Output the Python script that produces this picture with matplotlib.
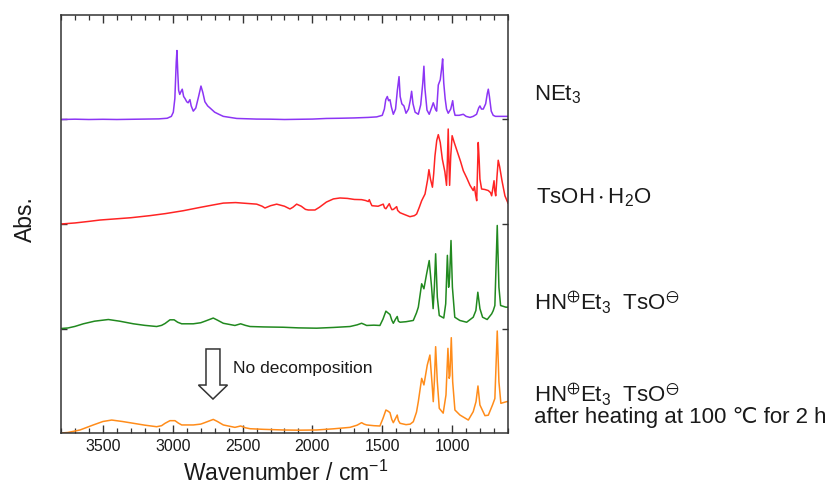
import matplotlib
matplotlib.use("Agg")
import matplotlib.pyplot as plt
from matplotlib.patches import FancyArrow
from matplotlib.ticker import MultipleLocator

plt.rcParams['font.family'] = ['Liberation Sans', 'DejaVu Sans']
plt.rcParams['mathtext.fontset'] = 'custom'
plt.rcParams['mathtext.rm'] = 'Liberation Sans'
plt.rcParams['mathtext.it'] = 'Liberation Sans:italic'
plt.rcParams['mathtext.bf'] = 'Liberation Sans:bold'

# ---------------- data (wavenumber / cm-1, absorbance relative to trace baseline) -----
net3_wn = [3800, 3700, 3600, 3500, 3400, 3300, 3200, 3100, 3040, 3010, 2996, 2985, 2975, 2970,
           2964, 2958, 2950, 2940, 2932, 2922, 2912, 2900, 2890, 2877, 2868, 2853, 2835, 2815,
           2798, 2785, 2770, 2750, 2733, 2700, 2670, 2638, 2542, 2400, 2300, 2200, 2100, 2000,
           1900, 1800, 1700, 1600, 1540, 1500, 1485, 1475, 1464, 1455, 1445, 1435, 1421, 1405,
           1392, 1380, 1372, 1360, 1345, 1330, 1312, 1300, 1290, 1280, 1265, 1242, 1225, 1210,
           1202, 1195, 1180, 1164, 1145, 1135, 1120, 1111, 1099, 1085, 1074, 1068, 1060, 1050,
           1040, 1028, 1010, 996, 988, 979, 950, 920, 900, 872, 849, 825, 810, 801, 790, 777,
           760, 748, 741, 733, 720, 706, 690, 650, 600]
net3_abs = [0.0, 0.003, 0.0, 0.002, 0.0, 0.002, 0.004, 0.006, 0.012, 0.03, 0.07, 0.20, 0.55, 0.66,
            0.45, 0.28, 0.24, 0.27, 0.29, 0.22, 0.20, 0.17, 0.16, 0.19, 0.13, 0.08, 0.11, 0.22,
            0.32, 0.26, 0.17, 0.13, 0.11, 0.07, 0.05, 0.03, 0.01, 0.004, 0.003, 0.0, 0.002, 0.004,
            0.01, 0.012, 0.015, 0.02, 0.025, 0.04, 0.10, 0.19, 0.22, 0.18, 0.19, 0.12, 0.05, 0.10,
            0.28, 0.41, 0.22, 0.15, 0.13, 0.06, 0.10, 0.18, 0.27, 0.15, 0.07, 0.05, 0.14, 0.35,
            0.51, 0.30, 0.09, 0.05, 0.12, 0.16, 0.10, 0.08, 0.33, 0.38, 0.50, 0.58, 0.35, 0.20,
            0.10, 0.06, 0.10, 0.18, 0.09, 0.04, 0.04, 0.05, 0.03, 0.02, 0.03, 0.05, 0.11, 0.13,
            0.10, 0.10, 0.15, 0.25, 0.29, 0.22, 0.08, 0.04, 0.03, 0.03, 0.03]

tsoh_wn = [3800, 3700, 3600, 3521, 3400, 3300, 3163, 3050, 2925, 2800, 2700, 2638, 2550, 2450,
           2399, 2360, 2340, 2300, 2256, 2200, 2161, 2140, 2113, 2080, 2050, 2030, 1982, 1950,
           1900, 1850, 1803, 1750, 1700, 1648, 1620, 1600, 1593, 1585, 1574, 1530, 1493, 1484,
           1474, 1450, 1440, 1431, 1420, 1397, 1390, 1373, 1340, 1302, 1270, 1254, 1235, 1218,
           1194, 1176, 1166, 1155, 1141, 1132, 1123, 1110, 1099, 1085, 1070, 1052, 1040, 1034,
           1028, 1023, 1018, 1010, 1000, 985, 965, 940, 920, 895, 872, 849, 840, 832, 824, 813,
           806, 801, 789, 765, 741, 725, 717, 700, 695, 688, 679, 670, 660, 643, 622, 600]
tsoh_abs = [0.0, 0.01, 0.025, 0.038, 0.05, 0.06, 0.08, 0.10, 0.127, 0.16, 0.185, 0.20, 0.205, 0.195,
            0.19, 0.17, 0.153, 0.175, 0.19, 0.17, 0.144, 0.16, 0.19, 0.17, 0.14, 0.134, 0.134, 0.16,
            0.21, 0.24, 0.249, 0.245, 0.235, 0.233, 0.225, 0.215, 0.233, 0.205, 0.175, 0.17, 0.19, 0.155,
            0.146, 0.194, 0.16, 0.137, 0.14, 0.166, 0.13, 0.108, 0.09, 0.07, 0.08, 0.096, 0.16, 0.223,
            0.287, 0.42, 0.52, 0.43, 0.352, 0.48, 0.65, 0.80, 0.855, 0.78, 0.62, 0.50, 0.37, 0.60,
            0.909, 0.60, 0.37, 0.65, 0.845, 0.78, 0.70, 0.60, 0.51, 0.44, 0.37, 0.32, 0.357, 0.28, 0.223, 0.78,
            0.60, 0.43, 0.335, 0.33, 0.32, 0.30, 0.27, 0.414, 0.32, 0.27, 0.45, 0.61, 0.55, 0.414, 0.27, 0.20]

salt_wn = [3800, 3750, 3700, 3640, 3560, 3461, 3380, 3282, 3200, 3115, 3080, 3055, 3020, 2990,
           2965, 2936, 2853, 2800, 2769, 2710, 2680, 2638, 2555, 2514, 2480, 2447, 2350, 2209,
           2100, 1970, 1850, 1731, 1680, 1648, 1630, 1612, 1560, 1517, 1495, 1474, 1460, 1445,
           1432, 1421, 1405, 1393, 1385, 1373, 1330, 1278, 1255, 1242, 1218, 1202, 1183, 1164,
           1147, 1136, 1127, 1118, 1106, 1092, 1060, 1046, 1034, 1025, 1018, 1008, 998, 981,
           945, 896, 849, 830, 816, 801, 782, 749, 717, 706, 694, 677, 665, 653, 615, 600]
salt_abs = [0.0, 0.005, 0.02, 0.045, 0.07, 0.086, 0.07, 0.045, 0.03, 0.019, 0.03, 0.048, 0.083, 0.083,
            0.06, 0.045, 0.045, 0.055, 0.07, 0.10, 0.08, 0.05, 0.029, 0.045, 0.03, 0.019, 0.015, 0.012,
            0.006, 0.003, 0.01, 0.019, 0.035, 0.05, 0.04, 0.029, 0.032, 0.029, 0.09, 0.166, 0.15, 0.134,
            0.08, 0.05, 0.09, 0.115, 0.07, 0.06, 0.065, 0.077, 0.15, 0.204, 0.428, 0.38, 0.52, 0.65,
            0.395, 0.19, 0.40, 0.715, 0.30, 0.124, 0.10, 0.236, 0.70, 0.395, 0.49, 0.842, 0.395, 0.108,
            0.077, 0.06, 0.108, 0.172, 0.347, 0.19, 0.108, 0.086, 0.14, 0.17, 0.22, 0.986, 0.395, 0.22, 0.204, 0.204]

heated_wn = [3800, 3750, 3664, 3569, 3500, 3437, 3360, 3282, 3200, 3115, 3080, 3055, 3020, 2984,
             2960, 2936, 2853, 2800, 2769, 2710, 2680, 2638, 2555, 2514, 2480, 2447, 2350, 2209,
             2100, 1970, 1850, 1731, 1680, 1648, 1630, 1612, 1560, 1517, 1495, 1474, 1460, 1445,
             1432, 1421, 1405, 1393, 1385, 1373, 1330, 1300, 1278, 1255, 1242, 1218, 1202, 1178,
             1159, 1143, 1135, 1127, 1118, 1106, 1092, 1064, 1044, 1030, 1021, 1016, 1006, 996,
             980, 944, 884, 849, 829, 815, 801, 765, 741, 711, 694, 677, 665, 651, 610, 600]
heated_abs = [0.0, 0.005, 0.029, 0.077, 0.11, 0.124, 0.11, 0.093, 0.075, 0.06, 0.07, 0.093, 0.118, 0.118,
              0.095, 0.077, 0.077, 0.085, 0.10, 0.13, 0.11, 0.077, 0.054, 0.067, 0.05, 0.041, 0.035, 0.029,
              0.027, 0.029, 0.04, 0.054, 0.075, 0.099, 0.085, 0.077, 0.07, 0.067, 0.14, 0.22, 0.21, 0.195,
              0.13, 0.099, 0.14, 0.172, 0.12, 0.093, 0.08, 0.085, 0.108, 0.20, 0.30, 0.523, 0.46, 0.65,
              0.746, 0.46, 0.30, 0.50, 0.826, 0.49, 0.236, 0.19, 0.364, 0.81, 0.523, 0.55, 0.912, 0.49,
              0.22, 0.172, 0.124, 0.204, 0.30, 0.45, 0.268, 0.166, 0.17, 0.268, 0.33, 0.976, 0.49, 0.284, 0.30, 0.30]

x_major_ticks = [3500, 3000, 2500, 2000, 1500, 1000]
annotation_text = "No decomposition"

# ---------------- figure ----------------
W, H = 833, 486
fig = plt.figure(figsize=(W / 100, H / 100), dpi=100)
ax = fig.add_axes([61 / W, (H - 433) / H, 447 / W, 418 / H])

frame_col = '#333333'
txt_col = '#1a1a1a'
traces = [
    (net3_wn, net3_abs, 3, '#8C35F5'),
    (tsoh_wn, tsoh_abs, 2, '#FF2424'),
    (salt_wn, salt_abs, 1, '#21891F'),
    (heated_wn, heated_abs, 0, '#FF8C1A'),
]
for wn, ab, off, col in traces:
    ax.plot(wn, [a + off for a in ab], color=col, lw=1.1, solid_joinstyle='round')

ax.set_xlim(3800, 600)
ax.set_ylim(0, 4)
ax.set_xticks(x_major_ticks)
ax.set_xticklabels([str(t) for t in x_major_ticks])
ax.xaxis.set_minor_locator(MultipleLocator(100))
ax.set_yticks([1, 2, 3])
ax.set_yticklabels([])
ax.tick_params(axis='x', which='major', direction='in', top=True, bottom=True,
               length=6, width=1.0, color=frame_col, labelsize=11.5, pad=4, labelcolor=txt_col)
ax.tick_params(axis='x', which='minor', direction='in', top=True, bottom=True,
               length=3.5, width=0.9, color=frame_col)
ax.tick_params(axis='y', which='major', direction='in', left=True, right=True,
               length=4, width=1.0, color=frame_col)
for s in ax.spines.values():
    s.set_color(frame_col)
    s.set_linewidth(1.1)

# arrow + annotation
ax.add_patch(FancyArrow(2712, 0.804, 0, -0.479, width=100, head_width=208, head_length=0.134,
                        length_includes_head=True, facecolor='white', edgecolor='#333333', lw=1.1))
ax.text(2569, 0.622, annotation_text, fontsize=12.5, ha='left', va='center', color=txt_col)

# axis labels
fig.text(286 / W, 1 - 481 / H, r'Wavenumber / cm$^{\mathregular{-1}}$', fontsize=16.5,
         ha='center', va='baseline', color=txt_col)
fig.text(25 / W, 1 - 219 / H, 'Abs.', fontsize=16.5, rotation=90, ha='center', va='center',
         color=txt_col)

# trace labels
lab_fs = 16
fig.text(534 / W, 1 - 100 / H, r'$\mathregular{NEt_3}$', fontsize=lab_fs, ha='left', va='baseline', color=txt_col)
fig.text(536 / W, 1 - 203.5 / H, r'$\mathregular{TsOH\cdot H_2O}$', fontsize=lab_fs, ha='left', va='baseline', color=txt_col)
fig.text(534 / W, 1 - 310.5 / H, r'$\mathregular{HN^{\oplus}Et_3\ \ TsO^{\ominus}}$', fontsize=lab_fs,
         ha='left', va='baseline', color=txt_col)
fig.text(534 / W, 1 - 402.5 / H, r'$\mathregular{HN^{\oplus}Et_3\ \ TsO^{\ominus}}$', fontsize=lab_fs,
         ha='left', va='baseline', color=txt_col)
fig.text(534 / W, 1 - 423 / H, 'after heating at 100 \u2103 for 2 h', fontsize=lab_fs,
         ha='left', va='baseline', color=txt_col)

fig.savefig('out.png', dpi=100)
